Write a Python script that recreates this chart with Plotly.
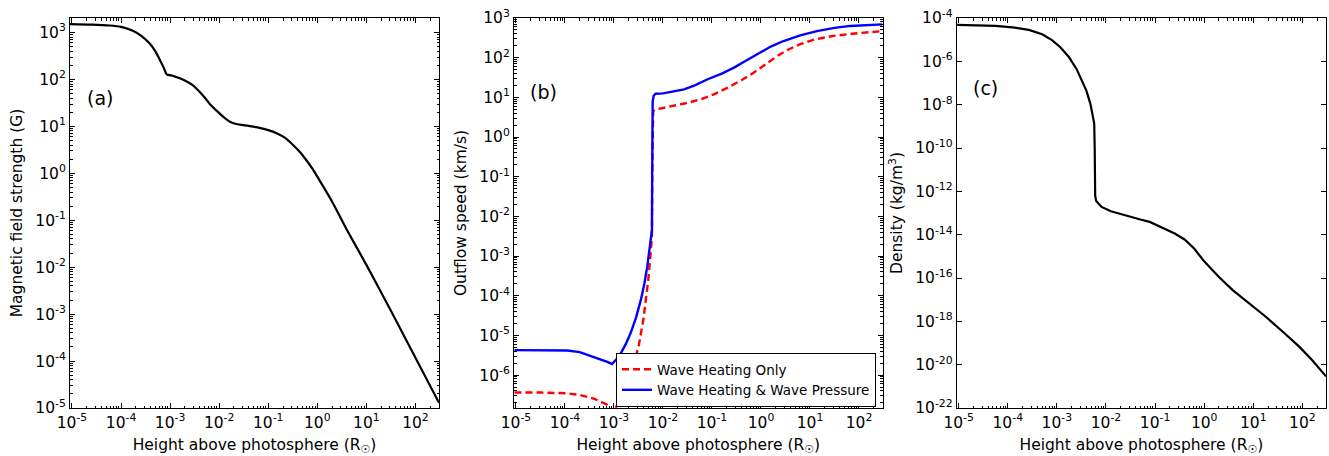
import numpy as np
import plotly.graph_objects as go

# ---------------- data (log10 values) ----------------
# Panel (a): magnetic field strength (G) vs height (R_sun)
log_h_a = [-5.04, -4.6, -4.23, -4.0, -3.76, -3.6, -3.42, -3.3, -3.21, -3.13, -3.07,
           -2.95, -2.87, -2.7, -2.54, -2.4, -2.3, -2.2, -2.05, -1.92, -1.78, -1.65,
           -1.4, -1.18, -1.0, -0.84, -0.65, -0.5, -0.35, -0.23, -0.1, 0.0, 0.15, 0.3,
           0.59, 1.0, 1.5, 2.0, 2.48]
log_B = [3.18, 3.17, 3.15, 3.12, 3.04, 2.94, 2.77, 2.6, 2.42, 2.25, 2.11,
         2.08, 2.05, 1.98, 1.88, 1.74, 1.62, 1.49, 1.33, 1.21, 1.1, 1.05,
         1.01, 0.97, 0.92, 0.86, 0.75, 0.61, 0.45, 0.29, 0.1, -0.07, -0.33, -0.6,
         -1.18, -1.95, -2.93, -3.93, -4.89]

# Panel (b): outflow speed (km/s)
log_h_blue = [-5.03, -4.5, -3.95, -3.7, -3.54, -3.4, -3.27, -3.15, -3.04, -2.95, -2.86,
              -2.76, -2.66, -2.55, -2.45, -2.38, -2.32, -2.26, -2.225, -2.22, -2.215,
              -2.21, -2.19, -2.15, -2.0, -1.91, -1.75, -1.57, -1.35, -1.1, -0.8, -0.55,
              -0.3, 0.0, 0.2, 0.46, 0.8, 1.14, 1.5, 1.82, 2.2, 2.48]
log_v_blue = [-5.37, -5.37, -5.38, -5.42, -5.49, -5.54, -5.6, -5.66, -5.72, -5.6, -5.45,
              -5.22, -4.94, -4.55, -4.1, -3.7, -3.26, -2.75, -2.35, -1.0, 0.5,
              0.9, 1.04, 1.09, 1.1, 1.12, 1.15, 1.2, 1.3, 1.45, 1.6, 1.75,
              1.93, 2.13, 2.28, 2.42, 2.56, 2.67, 2.75, 2.8, 2.83, 2.84]
log_h_red = [-5.03, -4.5, -3.95, -3.7, -3.54, -3.4, -3.27, -3.15, -3.04, -2.9, -2.75,
             -2.6, -2.5, -2.4, -2.3, -2.25, -2.225, -2.22, -2.215, -2.2, -2.17, -2.0,
             -1.78, -1.5, -1.23, -0.95, -0.69, -0.4, -0.15, 0.1, 0.33, 0.55, 0.8, 1.1,
             1.48, 2.0, 2.48]
log_v_red = [-6.44, -6.44, -6.46, -6.5, -6.55, -6.6, -6.67, -6.74, -6.95, -6.7, -6.3,
             -5.7, -5.3, -4.6, -3.6, -2.9, -2.5, -1.0, 0.3, 0.65, 0.69, 0.73,
             0.78, 0.86, 0.95, 1.08, 1.24, 1.43, 1.62, 1.84, 2.04, 2.2, 2.34, 2.46,
             2.55, 2.62, 2.67]

# Panel (c): density (kg/m^3)
log_h_c = [-5.03, -4.6, -4.25, -3.9, -3.57, -3.3, -3.1, -2.93, -2.76, -2.6, -2.49,
           -2.4, -2.32, -2.24, -2.23, -2.22, -2.2, -2.09, -1.9, -1.6, -1.3, -1.11,
           -0.87, -0.6, -0.4, -0.2, -0.02, 0.3, 0.58, 0.9, 1.26, 1.6, 1.94, 2.2, 2.48]
log_rho = [-4.32, -4.33, -4.36, -4.43, -4.55, -4.75, -5.02, -5.35, -5.79, -6.35, -6.86,
           -7.35, -7.94, -8.86, -10.0, -12.2, -12.45, -12.72, -12.92, -13.12, -13.3, -13.41,
           -13.65, -13.95, -14.22, -14.65, -15.18, -15.95, -16.56, -17.15, -17.8, -18.48,
           -19.18, -19.8, -20.54]

x_tick_exp = [-5, -4, -3, -2, -1, 0, 1, 2]
ya_tick_exp = [-5, -4, -3, -2, -1, 0, 1, 2, 3]
yb_tick_exp = [-6, -5, -4, -3, -2, -1, 0, 1, 2, 3]
yc_tick_exp = [-22, -20, -18, -16, -14, -12, -10, -8, -6, -4]

panel_labels = ["(a)", "(b)", "(c)"]
y_titles = ["Magnetic field strength (G)", "Outflow speed (km/s)",
            "Density (kg/m<sup>3</sup>)"]
x_title = "Height above photosphere (R<sub>☉</sub>)"
legend_names = ["Wave Heating Only", "Wave Heating & Wave Pressure"]

# ---------------------------------------------------------------------------
def pw(v):
    return [10.0 ** e for e in v]

def ticktext(exps):
    return ["10<sup>%d</sup>" % e for e in exps]

def minor_vals(lo, hi):
    return [m * 10.0 ** k for k in range(lo, hi) for m in range(2, 10)]

FONT = "DejaVu Sans"
FS = 15.5
fig = go.Figure()

fig.add_trace(go.Scatter(x=pw(log_h_a), y=pw(log_B), mode="lines",
                         line=dict(color="black", width=2.2, shape="spline", smoothing=0.6),
                         showlegend=False, xaxis="x", yaxis="y"))
fig.add_trace(go.Scatter(x=pw(log_h_red), y=pw(log_v_red), mode="lines",
                         name=legend_names[0],
                         line=dict(color="red", width=2.4, dash="7px,4px"),
                         xaxis="x2", yaxis="y2"))
fig.add_trace(go.Scatter(x=pw(log_h_blue), y=pw(log_v_blue), mode="lines",
                         name=legend_names[1],
                         line=dict(color="blue", width=2.4),
                         xaxis="x2", yaxis="y2"))
fig.add_trace(go.Scatter(x=pw(log_h_c), y=pw(log_rho), mode="lines",
                         line=dict(color="black", width=2.2),
                         showlegend=False, xaxis="x3", yaxis="y3"))

W, H = 1329, 456
x_domains = [[70 / W, 439 / W], [514 / W, 882.5 / W], [956.7 / W, 1326 / W]]
y_ranges = [[-5, 3.31], [-6.83, 3.0], [-22, -4]]
y_ticks = [ya_tick_exp, yb_tick_exp, yc_tick_exp]
y_minor = [minor_vals(-6, 4), minor_vals(-7, 3), None]

common = dict(type="log", showgrid=False, zeroline=False, showline=True,
              linecolor="black", linewidth=1, mirror="ticks", ticks="inside",
              ticklen=5, tickwidth=1, tickcolor="black", automargin=False,
              tickfont=dict(family=FONT, size=FS, color="black"))

layout = dict(width=W, height=H, paper_bgcolor="white", plot_bgcolor="white",
              margin=dict(l=0, r=0, t=18, b=48),
              font=dict(family=FONT, size=FS, color="black"))

for i in range(3):
    sx = "" if i == 0 else str(i + 1)
    xa = dict(common)
    xa.update(domain=x_domains[i], range=[-5.04, 2.48], anchor="y" + sx,
              tickmode="array", tickvals=pw(x_tick_exp), ticktext=ticktext(x_tick_exp),
              minor=dict(tickmode="array", tickvals=minor_vals(-6, 3), ticks="inside",
                         ticklen=2.5, tickcolor="black", tickwidth=1),
              title=dict(text=x_title, font=dict(family=FONT, size=FS), standoff=13))
    ya = dict(common)
    ya.update(domain=[0, 1], range=y_ranges[i], anchor="x" + sx,
              tickmode="array", tickvals=pw(y_ticks[i]), ticktext=ticktext(y_ticks[i]),
              title=dict(text=y_titles[i], font=dict(family=FONT, size=FS), standoff=8))
    if y_minor[i] is not None:
        ya["minor"] = dict(tickmode="array", tickvals=y_minor[i], ticks="inside",
                           ticklen=2.5, tickcolor="black", tickwidth=1)
    layout["xaxis" + sx] = xa
    layout["yaxis" + sx] = ya

layout["legend"] = dict(x=616 / W, y=(408 - 353) / 390, xanchor="left", yanchor="top",
                        bgcolor="white", bordercolor="black", borderwidth=1,
                        font=dict(family=FONT, size=13.5, color="black"))

label_pos = [(99.5, 98), (543, 91.7), (985, 88)]
annotations = []
for lab, (px, py) in zip(panel_labels, label_pos):
    annotations.append(dict(text=lab, x=px / W, y=(408 - py) / 390, xref="paper",
                            yref="paper", showarrow=False, xanchor="center",
                            yanchor="middle", font=dict(family=FONT, size=19, color="black")))
layout["annotations"] = annotations

fig.update_layout(**layout)
fig.write_html("out.html", config={"displayModeBar": False},
               post_script="document.body.style.margin='0';")
